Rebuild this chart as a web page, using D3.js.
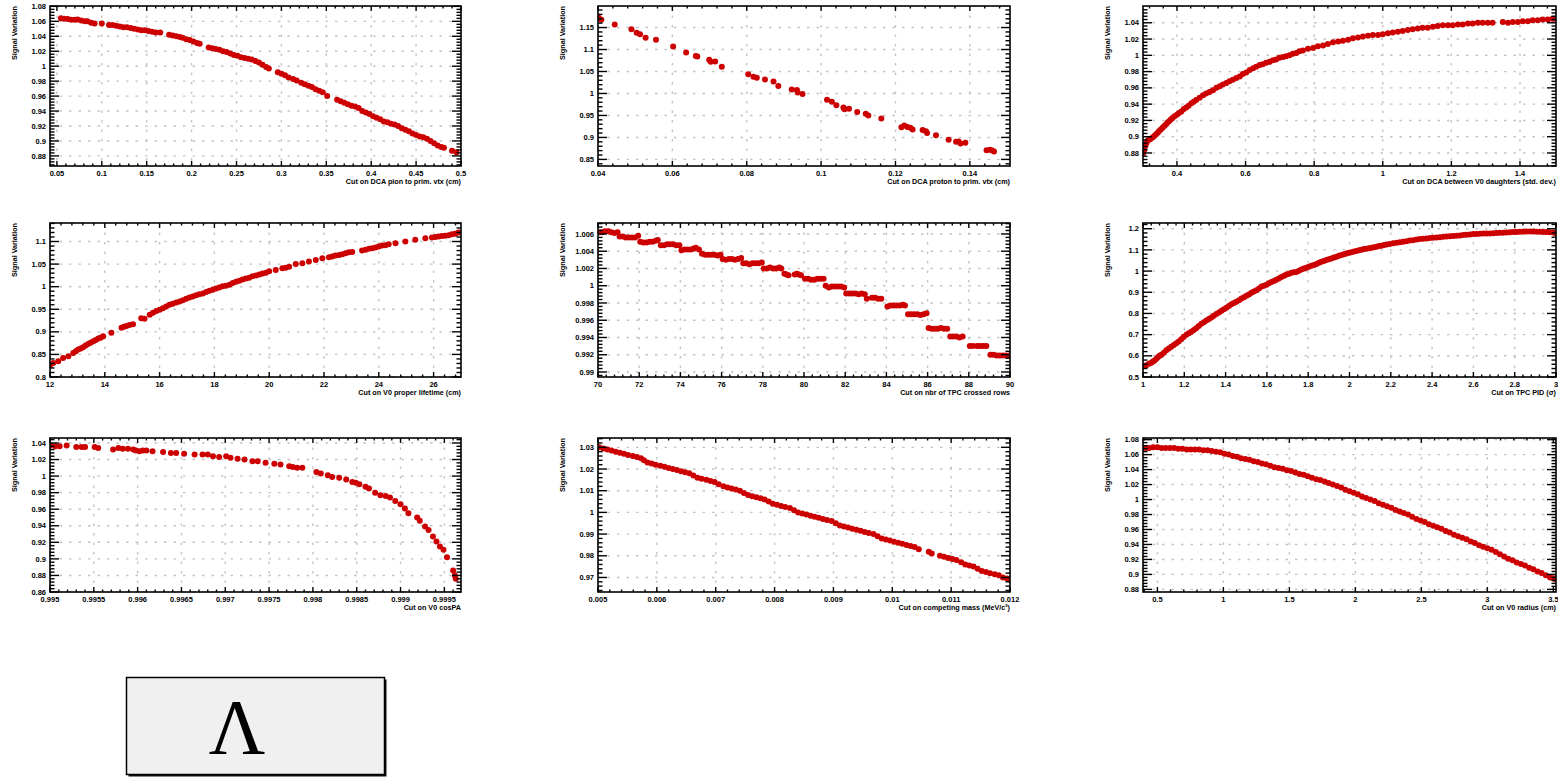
<!DOCTYPE html>
<html>
<head>
<meta charset="utf-8">
<script src="https://cdn.jsdelivr.net/npm/d3@7"></script>
<style>
  html, body { margin: 0; padding: 0; background: #ffffff; }
  svg { display: block; }
</style>
</head>
<body>
<svg id="chart" width="1558" height="777"></svg>
<script>
// ---------------- DATA ----------------
const titles = [
  "Cut on DCA pion to prim. vtx (cm)",
  "Cut on DCA proton to prim. vtx (cm)",
  "Cut on DCA between V0 daughters (std. dev.)",
  "Cut on V0 proper lifetime (cm)",
  "Cut on nbr of TPC crossed rows",
  "Cut on TPC PID (\u03C3)",
  "Cut on V0 cosPA",
  "Cut on competing mass (MeV/c\u00B2)",
  "Cut on V0 radius (cm)"
];
const yTitle = "Signal Variation";
const particleLabel = "\u039B";

const pionDCA = [[0.0545,1.064],[0.058,1.0635],[0.062,1.063],[0.066,1.062],[0.07,1.062],[0.073,1.0625],[0.077,1.061],[0.081,1.060],[0.084,1.060],[0.088,1.058],[0.092,1.057],[0.1,1.057],[0.108,1.055],[0.112,1.055],[0.116,1.054],[0.12,1.053],[0.124,1.052],[0.128,1.052],[0.132,1.051],[0.136,1.050],[0.14,1.049],[0.144,1.048],[0.148,1.048],[0.152,1.047],[0.156,1.046],[0.16,1.045],[0.165,1.045],[0.175,1.042],[0.179,1.041],[0.183,1.040],[0.187,1.039],[0.19,1.038],[0.194,1.036],[0.198,1.035],[0.202,1.033],[0.206,1.031],[0.209,1.030],[0.219,1.025],[0.223,1.024],[0.227,1.023],[0.231,1.022],[0.235,1.020],[0.239,1.019],[0.243,1.017],[0.247,1.015],[0.251,1.014],[0.255,1.012],[0.259,1.011],[0.263,1.010],[0.267,1.009],[0.271,1.007],[0.275,1.005],[0.279,1.002],[0.283,0.999],[0.286,0.997],[0.296,0.992],[0.3,0.990],[0.304,0.988],[0.308,0.985],[0.313,0.983],[0.317,0.981],[0.322,0.978],[0.326,0.976],[0.33,0.974],[0.334,0.972],[0.338,0.969],[0.342,0.967],[0.346,0.965],[0.351,0.960],[0.362,0.955],[0.366,0.953],[0.37,0.951],[0.374,0.949],[0.378,0.947],[0.382,0.946],[0.386,0.944],[0.39,0.940],[0.394,0.938],[0.398,0.936],[0.402,0.933],[0.406,0.931],[0.41,0.929],[0.414,0.926],[0.418,0.925],[0.422,0.923],[0.426,0.922],[0.43,0.920],[0.434,0.917],[0.438,0.915],[0.442,0.913],[0.446,0.910],[0.45,0.908],[0.454,0.906],[0.458,0.905],[0.462,0.903],[0.466,0.900],[0.47,0.897],[0.474,0.894],[0.478,0.892],[0.481,0.891],[0.49,0.887],[0.495,0.885]];

const protonDCA = [[0.0402,1.172],[0.0409,1.168],[0.0445,1.157],[0.049,1.146],[0.0504,1.138],[0.0513,1.135],[0.0528,1.127],[0.0556,1.122],[0.0602,1.107],[0.0637,1.093],[0.0663,1.085],[0.0667,1.084],[0.0699,1.077],[0.0703,1.072],[0.0715,1.073],[0.0733,1.061],[0.0804,1.044],[0.0818,1.038],[0.0827,1.036],[0.0849,1.032],[0.0872,1.027],[0.0885,1.017],[0.0921,1.009],[0.0935,1.008],[0.0937,1.002],[0.095,0.999],[0.1016,0.986],[0.1029,0.981],[0.1041,0.973],[0.106,0.968],[0.1063,0.964],[0.1075,0.965],[0.1097,0.958],[0.112,0.954],[0.1127,0.950],[0.1162,0.943],[0.1216,0.923],[0.1224,0.927],[0.1232,0.924],[0.124,0.922],[0.1246,0.918],[0.1273,0.917],[0.1282,0.914],[0.1285,0.910],[0.1309,0.905],[0.1343,0.895],[0.1363,0.890],[0.137,0.891],[0.1375,0.886],[0.1388,0.888],[0.1445,0.871],[0.1454,0.872],[0.146,0.870],[0.1465,0.868]];

const daughtersDCA = [[0.302,0.880],[0.305,0.884],[0.308,0.889],[0.312,0.893],[0.316,0.896],[0.322,0.897],[0.329,0.899],[0.334,0.901],[0.339,0.903],[0.344,0.905],[0.348,0.907],[0.353,0.909],[0.358,0.911],[0.363,0.913],[0.368,0.915],[0.372,0.917],[0.377,0.919],[0.382,0.921],[0.387,0.923],[0.393,0.925],[0.4,0.927],[0.406,0.929],[0.413,0.931],[0.42,0.934],[0.427,0.936],[0.434,0.938],[0.442,0.941],[0.449,0.943],[0.456,0.945],[0.466,0.948],[0.476,0.951],[0.485,0.953],[0.495,0.955],[0.505,0.957],[0.515,0.960],[0.525,0.962],[0.534,0.964],[0.544,0.966],[0.553,0.968],[0.563,0.970],[0.573,0.972],[0.583,0.974],[0.592,0.977],[0.602,0.979],[0.612,0.982],[0.622,0.984],[0.631,0.986],[0.641,0.988],[0.65,0.989],[0.66,0.991],[0.67,0.992],[0.68,0.994],[0.689,0.995],[0.699,0.997],[0.709,0.998],[0.718,0.999],[0.728,1.000],[0.738,1.002],[0.748,1.003],[0.757,1.005],[0.767,1.006],[0.782,1.008],[0.797,1.009],[0.811,1.011],[0.826,1.012],[0.84,1.014],[0.855,1.016],[0.87,1.017],[0.884,1.018],[0.899,1.019],[0.913,1.021],[0.928,1.022],[0.942,1.023],[0.957,1.024],[0.971,1.025],[0.986,1.025],[1.0,1.026],[1.015,1.027],[1.029,1.028],[1.044,1.029],[1.058,1.030],[1.073,1.031],[1.087,1.032],[1.102,1.033],[1.116,1.034],[1.131,1.034],[1.146,1.035],[1.16,1.036],[1.175,1.037],[1.19,1.037],[1.204,1.037],[1.219,1.038],[1.233,1.038],[1.248,1.039],[1.262,1.039],[1.277,1.040],[1.291,1.040],[1.306,1.040],[1.32,1.040],[1.35,1.041],[1.365,1.040],[1.379,1.041],[1.394,1.041],[1.408,1.042],[1.423,1.042],[1.437,1.043],[1.452,1.043],[1.466,1.044],[1.481,1.044],[1.495,1.045],[1.503,1.045]];

const properLifetime = [[12.0,0.826],[12.12,0.831],[12.3,0.835],[12.48,0.842],[12.67,0.846],[12.85,0.853],[12.94,0.857],[13.03,0.861],[13.12,0.863],[13.21,0.866],[13.3,0.870],[13.39,0.873],[13.48,0.876],[13.58,0.879],[13.67,0.882],[13.76,0.885],[13.85,0.887],[13.94,0.890],[14.24,0.898],[14.61,0.909],[14.7,0.911],[14.79,0.913],[14.9,0.915],[15.03,0.917],[15.33,0.930],[15.45,0.929],[15.64,0.938],[15.76,0.942],[15.88,0.946],[16.0,0.949],[16.12,0.952],[16.24,0.956],[16.36,0.960],[16.48,0.962],[16.61,0.965],[16.73,0.967],[16.85,0.970],[16.97,0.973],[17.09,0.976],[17.21,0.978],[17.33,0.981],[17.45,0.983],[17.58,0.985],[17.7,0.988],[17.82,0.991],[17.94,0.993],[18.06,0.996],[18.18,0.998],[18.3,1.001],[18.42,1.002],[18.55,1.004],[18.67,1.008],[18.79,1.011],[18.91,1.013],[19.03,1.016],[19.15,1.018],[19.27,1.020],[19.39,1.023],[19.52,1.025],[19.64,1.027],[19.76,1.029],[19.88,1.031],[20.0,1.034],[20.24,1.037],[20.48,1.041],[20.6,1.042],[20.73,1.044],[20.97,1.050],[21.21,1.052],[21.45,1.056],[21.7,1.059],[21.94,1.063],[22.18,1.065],[22.3,1.067],[22.42,1.069],[22.55,1.070],[22.67,1.072],[22.79,1.074],[22.91,1.076],[23.03,1.077],[23.39,1.080],[23.52,1.082],[23.64,1.084],[23.76,1.085],[23.88,1.087],[24.0,1.089],[24.12,1.091],[24.24,1.092],[24.36,1.094],[24.61,1.096],[24.97,1.100],[25.33,1.104],[25.7,1.107],[25.94,1.109],[26.06,1.110],[26.18,1.111],[26.3,1.112],[26.42,1.113],[26.55,1.114],[26.67,1.116],[26.79,1.117],[26.91,1.120]];

const crossedRows = [[70.05,1.0062],[70.2,1.0062],[70.35,1.0063],[70.5,1.0063],[70.65,1.0062],[70.8,1.0061],[70.95,1.0062],
[71.05,1.0057],[71.2,1.0057],[71.35,1.0056],[71.5,1.0056],[71.65,1.0056],[71.8,1.0056],[71.95,1.0058],
[72.05,1.0051],[72.2,1.0050],[72.35,1.0050],[72.5,1.0051],[72.65,1.0051],[72.8,1.0052],[72.9,1.0053],
[73.05,1.0047],[73.2,1.0047],[73.35,1.0048],[73.5,1.0048],[73.65,1.0048],[73.8,1.0047],[73.95,1.0047],
[74.05,1.0041],[74.2,1.0042],[74.35,1.0042],[74.5,1.0042],[74.65,1.0043],[74.75,1.0044],[74.9,1.0042],
[75.05,1.0037],[75.2,1.0036],[75.35,1.0036],[75.5,1.0036],[75.65,1.0036],[75.8,1.0035],[75.95,1.0036],
[76.05,1.0031],[76.2,1.0030],[76.35,1.0031],[76.5,1.0031],[76.65,1.0030],[76.8,1.0031],[76.95,1.0032],
[77.05,1.0026],[77.2,1.0026],[77.35,1.0025],[77.5,1.0026],[77.65,1.0026],[77.8,1.0026],[77.95,1.0027],
[78.05,1.0020],[78.2,1.0020],[78.35,1.0021],[78.5,1.0020],[78.65,1.0020],[78.8,1.0021],[78.9,1.0020],
[79.05,1.0014],[79.15,1.0013],[79.25,1.0012],
[79.55,1.0013],[79.65,1.0014],[79.75,1.0013],[79.85,1.0012],
[80.05,1.0008],[80.2,1.0008],[80.35,1.0007],[80.5,1.0007],[80.65,1.0008],[80.8,1.0008],[80.95,1.0008],
[81.05,1.0000],[81.2,0.9998],[81.35,0.9999],[81.5,0.9999],[81.65,0.9999],[81.8,0.9999],[81.95,0.9998],
[82.05,0.9991],[82.2,0.9991],[82.35,0.9991],[82.5,0.9991],[82.65,0.9990],[82.8,0.9991],[82.95,0.9990],
[83.05,0.9985],[83.3,0.9986],[83.45,0.9986],[83.6,0.9985],[83.75,0.9985],
[84.05,0.9976],[84.2,0.9977],[84.35,0.9977],[84.5,0.9977],[84.65,0.9977],[84.8,0.9978],[84.9,0.9977],
[85.05,0.9967],[85.2,0.9967],[85.35,0.9967],[85.5,0.9967],[85.65,0.9966],[85.8,0.9967],[85.95,0.9968],
[86.05,0.9951],[86.2,0.9950],[86.35,0.9950],[86.5,0.9950],[86.65,0.9951],[86.8,0.9950],[86.95,0.9950],
[87.1,0.9941],[87.25,0.9941],[87.4,0.9941],[87.55,0.9940],[87.7,0.9941],
[88.05,0.9930],[88.2,0.9930],[88.4,0.9930],[88.55,0.9930],[88.7,0.9930],[88.85,0.9930],
[89.05,0.9920],[89.2,0.9920],[89.35,0.9919],[89.5,0.9919],[89.65,0.9919],[89.8,0.9919],[89.95,0.9919]];

const tpcPID = [[1.0,0.551],[1.016,0.555],[1.029,0.563],[1.04,0.567],[1.048,0.573],[1.056,0.578],[1.065,0.586],[1.073,0.595],[1.081,0.600],[1.089,0.605],[1.101,0.615],[1.113,0.626],[1.125,0.635],[1.137,0.643],[1.149,0.651],[1.161,0.659],[1.173,0.668],[1.185,0.678],[1.197,0.689],[1.21,0.699],[1.222,0.706],[1.234,0.714],[1.246,0.722],[1.258,0.730],[1.27,0.741],[1.283,0.751],[1.295,0.759],[1.307,0.767],[1.319,0.774],[1.331,0.781],[1.343,0.789],[1.355,0.797],[1.368,0.805],[1.38,0.813],[1.392,0.820],[1.404,0.827],[1.416,0.835],[1.428,0.843],[1.44,0.849],[1.452,0.855],[1.465,0.862],[1.477,0.870],[1.489,0.877],[1.501,0.883],[1.513,0.890],[1.525,0.898],[1.537,0.904],[1.549,0.910],[1.562,0.918],[1.574,0.927],[1.586,0.931],[1.598,0.936],[1.61,0.942],[1.622,0.948],[1.634,0.953],[1.646,0.959],[1.658,0.965],[1.67,0.972],[1.683,0.978],[1.695,0.984],[1.707,0.988],[1.719,0.992],[1.731,0.994],[1.743,0.996],[1.755,1.002],[1.767,1.008],[1.779,1.012],[1.791,1.016],[1.803,1.020],[1.816,1.025],[1.828,1.029],[1.84,1.033],[1.852,1.039],[1.864,1.044],[1.876,1.048],[1.888,1.052],[1.9,1.056],[1.912,1.060],[1.925,1.064],[1.937,1.068],[1.949,1.072],[1.961,1.076],[1.973,1.080],[1.985,1.083],[1.997,1.086],[2.009,1.089],[2.022,1.092],[2.034,1.095],[2.046,1.098],[2.058,1.101],[2.07,1.104],[2.082,1.106],[2.094,1.108],[2.106,1.110],[2.119,1.113],[2.131,1.115],[2.143,1.118],[2.155,1.120],[2.167,1.123],[2.179,1.125],[2.195,1.128],[2.211,1.131],[2.228,1.134],[2.244,1.136],[2.26,1.139],[2.276,1.141],[2.292,1.144],[2.308,1.146],[2.325,1.149],[2.341,1.151],[2.357,1.153],[2.373,1.154],[2.389,1.156],[2.405,1.157],[2.422,1.159],[2.438,1.160],[2.454,1.162],[2.47,1.163],[2.486,1.165],[2.502,1.166],[2.519,1.167],[2.535,1.168],[2.551,1.170],[2.567,1.171],[2.583,1.173],[2.599,1.175],[2.615,1.175],[2.631,1.176],[2.648,1.177],[2.664,1.178],[2.68,1.178],[2.696,1.179],[2.712,1.180],[2.728,1.181],[2.744,1.181],[2.76,1.182],[2.777,1.183],[2.793,1.184],[2.809,1.185],[2.825,1.186],[2.841,1.186],[2.857,1.187],[2.874,1.187],[2.89,1.187],[2.906,1.186],[2.922,1.186],[2.938,1.185],[2.954,1.184],[2.97,1.183],[2.987,1.182],[2.998,1.180]];

const cosPA = [[0.99501,1.037],[0.99506,1.036],[0.99511,1.036],[0.99519,1.037],[0.9953,1.035],[0.99536,1.035],[0.9954,1.035],[0.99551,1.035],[0.99555,1.034],[0.99572,1.032],[0.99578,1.034],[0.99583,1.033],[0.99589,1.033],[0.99595,1.032],[0.99598,1.031],[0.99602,1.030],[0.99606,1.031],[0.9961,1.031],[0.99617,1.030],[0.99629,1.029],[0.99638,1.028],[0.99644,1.028],[0.99653,1.027],[0.99665,1.026],[0.99674,1.026],[0.9968,1.026],[0.99686,1.024],[0.99693,1.023],[0.99701,1.024],[0.99706,1.022],[0.99714,1.021],[0.99722,1.020],[0.99731,1.018],[0.99737,1.018],[0.99746,1.016],[0.99756,1.015],[0.99763,1.014],[0.99773,1.012],[0.99777,1.011],[0.99782,1.010],[0.99788,1.010],[0.99804,1.005],[0.99809,1.003],[0.99817,1.001],[0.99822,0.999],[0.9983,0.998],[0.99838,0.996],[0.99845,0.993],[0.99849,0.992],[0.99853,0.990],[0.9986,0.987],[0.99864,0.985],[0.99871,0.980],[0.99877,0.977],[0.99883,0.976],[0.99888,0.974],[0.99894,0.970],[0.999,0.966],[0.99905,0.961],[0.99909,0.955],[0.99919,0.950],[0.99922,0.946],[0.99928,0.939],[0.99932,0.935],[0.99937,0.927],[0.99941,0.921],[0.99945,0.915],[0.99949,0.911],[0.99953,0.902],[0.9996,0.886],[0.99962,0.880],[0.99963,0.876]];

const competingMass = [[0.00502,1.030],[0.00509,1.0295],[0.00516,1.029],[0.00523,1.0285],[0.0053,1.028],[0.00537,1.0275],[0.00544,1.027],[0.00551,1.0265],[0.00559,1.026],[0.00566,1.0255],[0.00573,1.025],[0.00578,1.024],[0.00584,1.023],[0.00591,1.0225],[0.00598,1.022],[0.00606,1.0215],[0.00613,1.021],[0.0062,1.0205],[0.00627,1.020],[0.00634,1.0195],[0.00641,1.019],[0.00648,1.0185],[0.00655,1.018],[0.00662,1.017],[0.00669,1.016],[0.00676,1.0155],[0.00684,1.015],[0.00691,1.0145],[0.00698,1.014],[0.00705,1.013],[0.00713,1.012],[0.0072,1.0115],[0.00727,1.011],[0.00734,1.0105],[0.00741,1.010],[0.00748,1.009],[0.00755,1.008],[0.00762,1.0075],[0.00769,1.007],[0.00776,1.0065],[0.00783,1.006],[0.0079,1.005],[0.00797,1.004],[0.00804,1.0035],[0.00811,1.003],[0.00818,1.0025],[0.00826,1.002],[0.00833,1.001],[0.0084,1.000],[0.00847,0.9995],[0.00854,0.999],[0.00861,0.9985],[0.00868,0.998],[0.00875,0.9975],[0.00882,0.997],[0.00889,0.9965],[0.00897,0.996],[0.00904,0.995],[0.00911,0.994],[0.00918,0.9935],[0.00925,0.993],[0.00932,0.9925],[0.00939,0.992],[0.00946,0.9915],[0.00953,0.991],[0.0096,0.9905],[0.00968,0.990],[0.00975,0.989],[0.00982,0.988],[0.00989,0.9875],[0.00996,0.987],[0.01003,0.9865],[0.0101,0.986],[0.01017,0.9855],[0.01024,0.985],[0.01031,0.9845],[0.01038,0.984],[0.01045,0.983],[0.01062,0.9818],[0.01067,0.981],[0.01081,0.980],[0.01088,0.9795],[0.01095,0.979],[0.01102,0.9785],[0.01109,0.978],[0.01117,0.977],[0.01124,0.976],[0.01131,0.9755],[0.01138,0.975],[0.01145,0.974],[0.01152,0.973],[0.01159,0.9725],[0.01166,0.972],[0.01174,0.9715],[0.01181,0.971],[0.01188,0.970],[0.01195,0.9695],[0.012,0.969]];

const v0Radius = [[0.39,1.069],[0.414,1.069],[0.437,1.069],[0.468,1.070],[0.5,1.070],[0.532,1.069],[0.563,1.069],[0.595,1.069],[0.627,1.069],[0.658,1.068],[0.69,1.068],[0.722,1.067],[0.753,1.067],[0.785,1.067],[0.816,1.067],[0.848,1.066],[0.88,1.066],[0.912,1.065],[0.944,1.064],[0.976,1.063],[1.008,1.061],[1.04,1.060],[1.071,1.058],[1.103,1.057],[1.134,1.055],[1.166,1.054],[1.197,1.053],[1.229,1.051],[1.261,1.050],[1.292,1.048],[1.323,1.047],[1.355,1.045],[1.386,1.043],[1.418,1.042],[1.45,1.041],[1.481,1.039],[1.513,1.038],[1.545,1.036],[1.576,1.034],[1.608,1.033],[1.639,1.031],[1.671,1.029],[1.703,1.027],[1.734,1.026],[1.766,1.024],[1.797,1.022],[1.829,1.020],[1.861,1.018],[1.892,1.016],[1.924,1.013],[1.956,1.011],[1.987,1.009],[2.019,1.007],[2.05,1.004],[2.082,1.002],[2.114,1.000],[2.146,0.998],[2.177,0.995],[2.209,0.993],[2.24,0.991],[2.272,0.989],[2.304,0.986],[2.335,0.984],[2.367,0.982],[2.399,0.980],[2.43,0.977],[2.462,0.974],[2.494,0.972],[2.525,0.970],[2.557,0.967],[2.589,0.965],[2.62,0.963],[2.652,0.961],[2.684,0.958],[2.715,0.956],[2.747,0.953],[2.778,0.951],[2.81,0.949],[2.842,0.947],[2.874,0.944],[2.905,0.942],[2.937,0.939],[2.968,0.937],[3.0,0.935],[3.032,0.933],[3.064,0.930],[3.095,0.927],[3.127,0.924],[3.158,0.921],[3.19,0.919],[3.222,0.916],[3.254,0.914],[3.285,0.912],[3.317,0.909],[3.348,0.907],[3.38,0.904],[3.411,0.902],[3.443,0.899],[3.475,0.896],[3.5,0.895],[3.513,0.894]];

// axis ranges (read from the frames)
const xRanges = [[0.0423,0.5],[0.04,0.1508],[0.301,1.505],[12,27],[70,90],[1,3],[0.995,0.99969],[0.005,0.012],[0.391,3.52]];
const yRanges = [[0.8665,1.0805],[0.835,1.199],[0.864,1.0606],[0.8,1.141],[0.98942,1.00727],[0.5,1.227],[0.86,1.046],[0.9633,1.0343],[0.8765,1.0822]];

// tick labels
const xTickValues = [
  [0.05,0.1,0.15,0.2,0.25,0.3,0.35,0.4,0.45,0.5],
  [0.04,0.06,0.08,0.1,0.12,0.14],
  [0.4,0.6,0.8,1,1.2,1.4],
  [12,14,16,18,20,22,24,26],
  [70,72,74,76,78,80,82,84,86,88,90],
  [1,1.2,1.4,1.6,1.8,2,2.2,2.4,2.6,2.8,3],
  [0.995,0.9955,0.996,0.9965,0.997,0.9975,0.998,0.9985,0.999,0.9995],
  [0.005,0.006,0.007,0.008,0.009,0.01,0.011,0.012],
  [0.5,1,1.5,2,2.5,3,3.5]
];
const yTickValues = [
  [0.88,0.9,0.92,0.94,0.96,0.98,1,1.02,1.04,1.06,1.08],
  [0.85,0.9,0.95,1,1.05,1.1,1.15],
  [0.88,0.9,0.92,0.94,0.96,0.98,1,1.02,1.04],
  [0.8,0.85,0.9,0.95,1,1.05,1.1],
  [0.99,0.992,0.994,0.996,0.998,1,1.002,1.004,1.006],
  [0.5,0.6,0.7,0.8,0.9,1,1.1,1.2],
  [0.86,0.88,0.9,0.92,0.94,0.96,0.98,1,1.02,1.04],
  [0.97,0.98,0.99,1,1.01,1.02,1.03],
  [0.88,0.9,0.92,0.94,0.96,0.98,1,1.02,1.04,1.06,1.08]
];

const seriesList = [pionDCA, protonDCA, daughtersDCA, properLifetime, crossedRows, tpcPID, cosPA, competingMass, v0Radius];

// ---------------- LAYOUT ----------------
const colLeft = [50, 598, 1143];
const colRight = [461, 1010, 1556];
const rowTop = [6, 223, 438];
const rowBottom = [166, 377, 592];
const FONT = "'Liberation Sans', Arial, Helvetica, sans-serif";
const RED = "#cc0000";

const svg = d3.select("#chart");
svg.append("rect").attr("width", 1558).attr("height", 777).attr("fill", "#fff");

function minorTicks(major, domain, nSub) {
  const step = (major[1] - major[0]) / nSub;
  const out = [];
  const kMin = Math.ceil((domain[0] - major[0]) / step - 1e-6);
  const kMax = Math.floor((domain[1] - major[0]) / step + 1e-6);
  for (let k = kMin; k <= kMax; k++) {
    if (((k % nSub) + nSub) % nSub !== 0) out.push(major[0] + k * step);
  }
  return out;
}

seriesList.forEach((data, i) => {
  const r = Math.floor(i / 3), c = i % 3;
  const x0 = colLeft[c], y0 = rowTop[r];
  const w = colRight[c] - x0, h = rowBottom[r] - y0;
  const xs = d3.scaleLinear().domain(xRanges[i]).range([0, w]);
  const ys = d3.scaleLinear().domain(yRanges[i]).range([h, 0]);
  const g = svg.append("g").attr("transform", `translate(${x0},${y0})`);

  g.append("rect").attr("width", w).attr("height", h).attr("fill", "#fff");

  // grid
  const xt = xTickValues[i], yt = yTickValues[i];
  g.append("g").selectAll("line").data(xt).join("line")
    .attr("x1", d => xs(d)).attr("x2", d => xs(d)).attr("y1", 0).attr("y2", h)
    .attr("stroke", "#c4c4c4").attr("stroke-width", 1.4).attr("stroke-dasharray", "2.5,7");
  g.append("g").selectAll("line").data(yt).join("line")
    .attr("y1", d => ys(d)).attr("y2", d => ys(d)).attr("x1", 0).attr("x2", w)
    .attr("stroke", "#c4c4c4").attr("stroke-width", 1.4).attr("stroke-dasharray", "2.5,7");

  // points (clipped to frame)
  const clipId = "clip" + i;
  g.append("clipPath").attr("id", clipId).append("rect").attr("width", w).attr("height", h);
  g.append("g").attr("clip-path", `url(#${clipId})`)
    .selectAll("circle").data(data).join("circle")
    .attr("cx", d => xs(d[0])).attr("cy", d => ys(d[1])).attr("r", 3.0)
    .attr("fill", RED);

  // frame
  g.append("rect").attr("width", w).attr("height", h)
    .attr("fill", "none").attr("stroke", "#000").attr("stroke-width", 1.6);

  // ticks
  const tg = g.append("g").attr("stroke", "#000").attr("stroke-width", 1.4);
  const yMin = minorTicks(yt, yRanges[i], 5), xMin = minorTicks(xt, xRanges[i], 5);
  const YL = 9, YM = 4.5, XL = 5, XM = 2.5;
  yt.forEach(v => {
    tg.append("line").attr("x1", 0).attr("x2", YL).attr("y1", ys(v)).attr("y2", ys(v));
    tg.append("line").attr("x1", w - YL).attr("x2", w).attr("y1", ys(v)).attr("y2", ys(v));
  });
  yMin.forEach(v => {
    tg.append("line").attr("x1", 0).attr("x2", YM).attr("y1", ys(v)).attr("y2", ys(v));
    tg.append("line").attr("x1", w - YM).attr("x2", w).attr("y1", ys(v)).attr("y2", ys(v));
  });
  xt.forEach(v => {
    tg.append("line").attr("y1", h).attr("y2", h - XL).attr("x1", xs(v)).attr("x2", xs(v));
    tg.append("line").attr("y1", 0).attr("y2", XL).attr("x1", xs(v)).attr("x2", xs(v));
  });
  xMin.forEach(v => {
    tg.append("line").attr("y1", h).attr("y2", h - XM).attr("x1", xs(v)).attr("x2", xs(v));
    tg.append("line").attr("y1", 0).attr("y2", XM).attr("x1", xs(v)).attr("x2", xs(v));
  });

  // tick labels
  g.append("g").selectAll("text").data(yt).join("text")
    .attr("x", -4).attr("y", d => ys(d)).attr("dy", "0.35em")
    .attr("text-anchor", "end").attr("font-family", FONT).attr("font-weight", "bold")
    .attr("font-size", 7.5).attr("fill", "#000").text(d => String(d));
  g.append("g").selectAll("text").data(xt).join("text")
    .attr("x", d => xs(d)).attr("y", h + 9.5)
    .attr("text-anchor", "middle").attr("font-family", FONT).attr("font-weight", "bold")
    .attr("font-size", 7.5).attr("fill", "#000").text(d => String(d));

  // axis titles
  g.append("text").attr("x", w).attr("y", h + 17.5).attr("text-anchor", "end")
    .attr("font-family", FONT).attr("font-weight", "bold").attr("font-size", 7.2)
    .attr("fill", "#000").text(titles[i]);
  g.append("text").attr("transform", `translate(-33,0) rotate(-90)`)
    .attr("text-anchor", "end").attr("font-family", FONT).attr("font-weight", "bold")
    .attr("font-size", 7.2).attr("fill", "#000").text(yTitle);
});

// particle label box
const box = svg.append("g");
box.append("rect").attr("x", 128.5).attr("y", 679.5).attr("width", 258).attr("height", 97).attr("fill", "#111");
box.append("rect").attr("x", 126.5).attr("y", 677.5).attr("width", 258).attr("height", 97)
  .attr("fill", "#f0f0f0").attr("stroke", "#000").attr("stroke-width", 1.5);
box.append("text").attr("x", 237).attr("y", 753).attr("text-anchor", "middle")
  .attr("font-family", "'Liberation Serif', 'Times New Roman', serif").attr("font-size", 78)
  .attr("fill", "#000").text(particleLabel);
</script>
</body>
</html>
